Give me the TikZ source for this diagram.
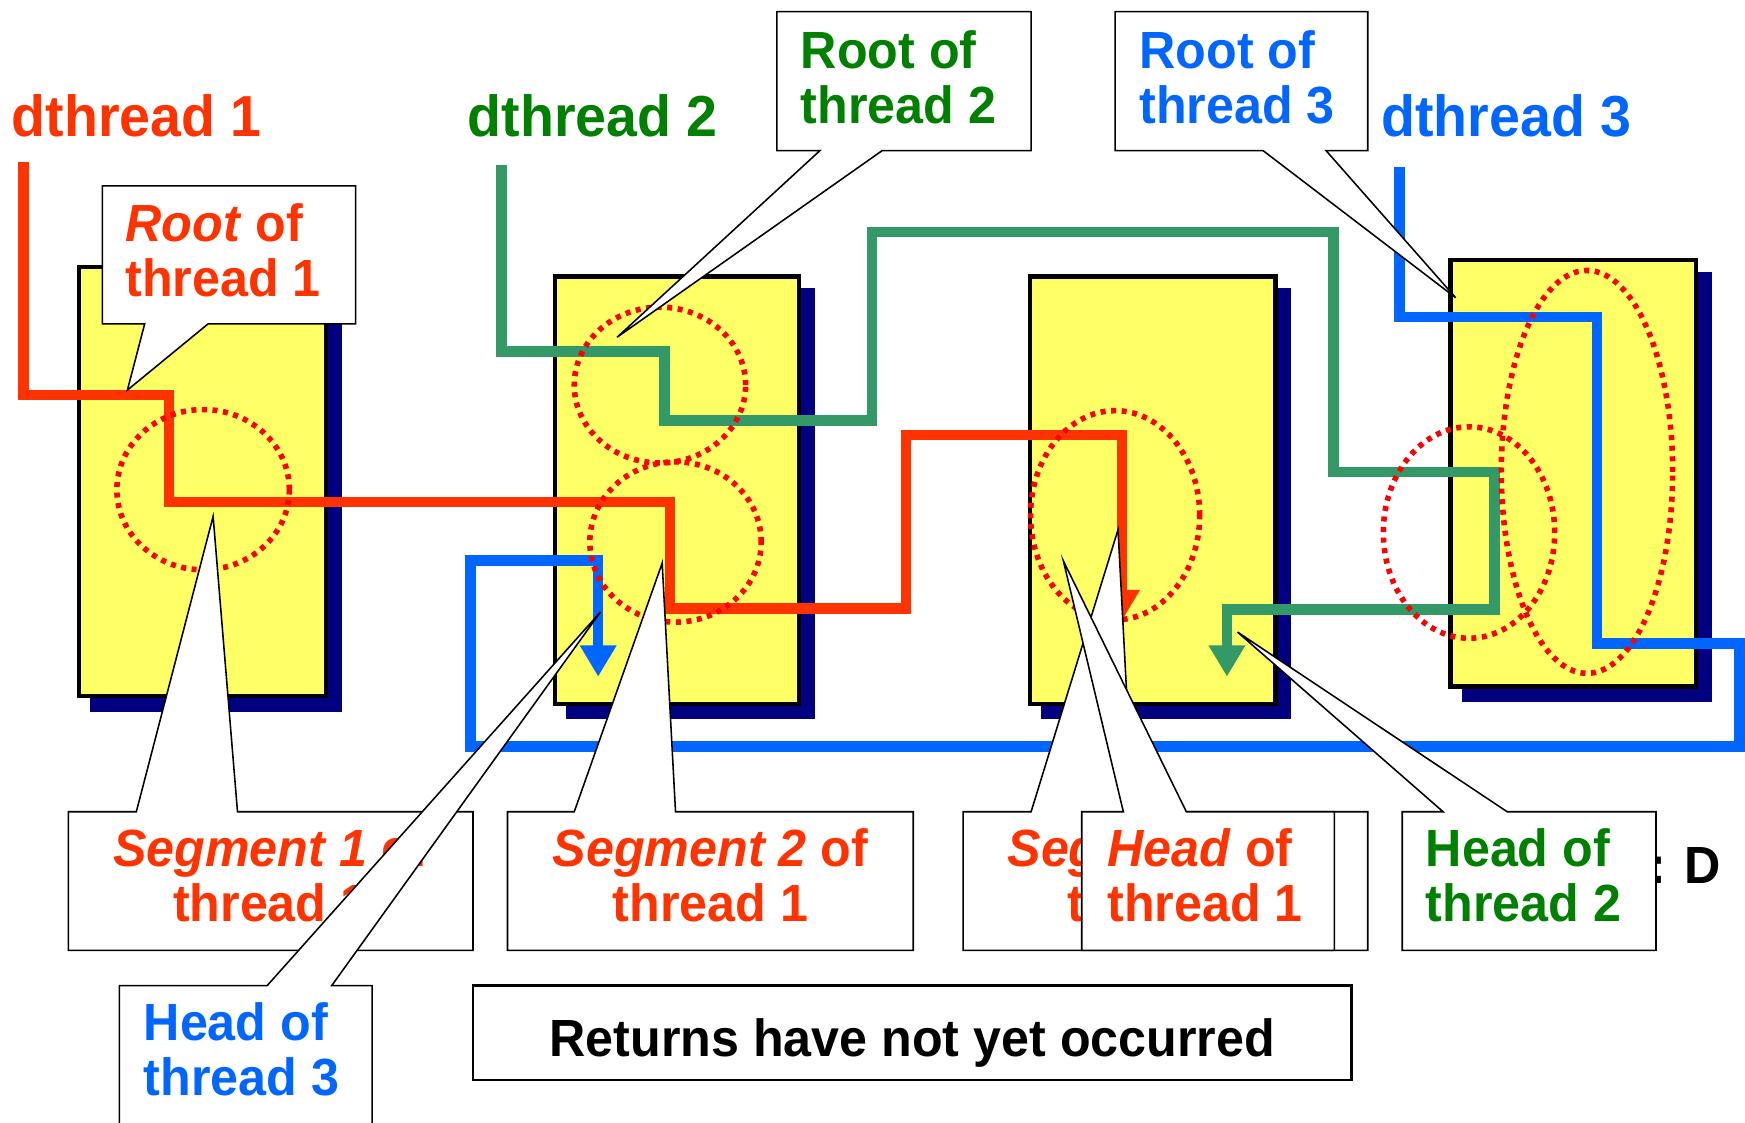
\documentclass[tikz,border=0pt]{standalone}
\usepackage{fontspec}
\setmainfont{Liberation Sans}[FakeStretch=0.96]
\usetikzlibrary{arrows.meta}
\definecolor{thrR}{HTML}{FF3300}
\definecolor{thrG}{HTML}{339966}
\definecolor{txtG}{HTML}{008000}
\definecolor{thrB}{HTML}{0066FF}
\definecolor{boxY}{HTML}{FFFF66}
\definecolor{shadowN}{HTML}{000080}
\definecolor{dotR}{HTML}{FF0000}
\newcommand\calfont{\fontsize{47}{50}\selectfont\bfseries}
\newcommand\titfont{\fontsize{52}{56}\selectfont\bfseries}
% callout with pointer on top edge: L,T,R,B,b1,b2,tipx,tipy
\newcommand\calloutT[8]{\filldraw[callout] (#1,#2) -- (#5,#2) -- (#7,#8) -- (#6,#2) -- (#3,#2) -- (#3,#4) -- (#1,#4) -- cycle;}
% callout with pointer on bottom edge
\newcommand\calloutB[8]{\filldraw[callout] (#1,#2) -- (#3,#2) -- (#3,#4) -- (#6,#4) -- (#7,#8) -- (#5,#4) -- (#1,#4) -- cycle;}
\tikzset{
  thread/.style={line width=9.5pt, line join=miter, line cap=butt},
  ring/.style={draw=dotR, line width=5pt, dash pattern=on 4.5pt off 5pt},
  ybox/.style={draw=black, fill=boxY, line width=4pt, anchor=north west, inner sep=0pt},
  shadowbox/.style={fill=shadowN},
  callout/.style={fill=white, draw=black, line width=1.4pt, line join=miter},
  lbl/.style={inner sep=0pt, anchor=base west},
  clbl/.style={inner sep=0pt, anchor=base},
  headtip/.style={-{Triangle[length=28pt,width=31pt]}}
}
\begin{document}
\begin{tikzpicture}[x=1pt,y=-1pt]
\clip (0,0) rectangle (1568,1009);
\fill[white] (0,0) rectangle (1568,1009);

% titles
\node[lbl, text=thrR] (t1) at (10.3,123) {\titfont dthread 1};
\node[lbl, text=txtG] (t2) at (420,123) {\titfont dthread 2};
\node[lbl, text=thrB] (t3) at (1241,123) {\titfont dthread 3};

% shadows
\fill[shadowbox] (81,251) rectangle (307,639.5);
\fill[shadowbox] (508.5,259) rectangle (732,646);
\fill[shadowbox] (935.5,259) rectangle (1160,646);
\fill[shadowbox] (1313.5,244) rectangle (1538,630.5);
% boxes
\node[ybox, minimum width=222pt, minimum height=385.5pt] (b1) at (69,238) {};
\node[ybox, minimum width=219.5pt, minimum height=384pt] (b2) at (496.5,246.5) {};
\node[ybox, minimum width=220.5pt, minimum height=384pt] (b3) at (923.5,246.5) {};
\node[ybox, minimum width=220.5pt, minimum height=383.5pt] (b4) at (1301.5,231.5) {};

% threads
\draw[thread, thrR, headtip] (21,146) -- (21,355) -- (152,355) -- (152,451) -- (602,451) -- (602,547) -- (814,547) -- (814,391) -- (1008,391) -- (1008,558);
\draw[thread, thrG, headtip] (450.5,148) -- (450.5,316) -- (597,316) -- (597,378) -- (783.5,378) -- (783.5,208.5) -- (1198,208.5) -- (1198,424) -- (1343,424) -- (1343,547.5) -- (1102.5,547.5) -- (1102.5,608);
\draw[thread, thrB, headtip] (1257.5,150) -- (1257.5,285) -- (1435,285) -- (1435,578) -- (1563,578) -- (1563,671) -- (423,671) -- (423,503.5) -- (537.5,503.5) -- (537.5,608);

% dotted rings
\draw[ring] (182.5,440) ellipse [x radius=77.5pt, y radius=72pt];
\draw[ring] (593,346) ellipse [x radius=77pt, y radius=70pt];
\draw[ring] (607,487) ellipse [x radius=77pt, y radius=72pt];
\draw[ring] (1002,463) ellipse [x radius=76pt, y radius=94pt];
\draw[ring] (1320,478.5) ellipse [x radius=77pt, y radius=95pt];
\draw[ring] (1426,424) ellipse [x radius=77pt, y radius=181pt];

% partly hidden text at right
\node[lbl, text=black] (dlab) at (1482,793.6) {\calfont : D};

% Root of thread 1
\calloutB{92}{167}{319.5}{291}{130}{187}{114.5}{350.5}
\node[lbl, text=thrR] (c1a) at (112.5,217) {\calfont\textit{Root} of};
\node[lbl, text=thrR] (c1b) at (112.5,266.6) {\calfont thread 1};
% Root of thread 2
\calloutB{698}{10.5}{926.5}{135.4}{736.7}{792.6}{554.5}{303}
\node[lbl, text=txtG] (c2a) at (719.5,61.4) {\calfont Root of};
\node[lbl, text=txtG] (c2b) at (719.5,110.8) {\calfont thread 2};
% Root of thread 3
\calloutB{1002}{10.5}{1229}{135.4}{1135}{1191.6}{1308}{267.5}
\node[lbl, text=thrB] (c3a) at (1023.6,61.4) {\calfont Root of};
\node[lbl, text=thrB] (c3b) at (1023.6,110.8) {\calfont thread 3};
% Segment 1 of thread 1
\calloutT{61.5}{729.4}{425}{854}{122.5}{213.4}{191.5}{464}
\node[clbl, text=thrR] (c4a) at (243.3,779) {\calfont\textit{Segment 1} of};
\node[clbl, text=thrR] (c4b) at (243.3,828) {\calfont thread 1};
% Segment 2 of thread 1
\calloutT{456}{729.4}{820.6}{854}{516}{607}{595}{506}
\node[clbl, text=thrR] (c5a) at (638.3,779) {\calfont\textit{Segment 2} of};
\node[clbl, text=thrR] (c5b) at (638.3,828) {\calfont thread 1};
% Head of thread 3
\calloutT{107.3}{885.7}{334.3}{1030}{240}{298}{539.5}{550}
\node[lbl, text=thrB] (c9a) at (129,934.6) {\calfont Head of};
\node[lbl, text=thrB] (c9b) at (129,984) {\calfont thread 3};
% Segment 3 of thread 1 (mostly hidden)
\calloutT{865.5}{729.4}{1229}{854}{926.5}{1018}{1004.6}{476}
\node[clbl, text=thrR] (c6a) at (1047,779) {\calfont\textit{Segment 3} of};
\node[clbl, text=thrR] (c6b) at (1047,828) {\calfont thread 1};
% Head of thread 1
\calloutT{972}{729.4}{1199}{854}{1009.4}{1066}{955.5}{504}
\node[lbl, text=thrR] (c7a) at (995,779) {\calfont\textit{Head} of};
\node[lbl, text=thrR] (c7b) at (995,828) {\calfont thread 1};
% Head of thread 2
\calloutT{1260}{729.4}{1488}{854}{1296.7}{1354.3}{1112}{568}
\node[lbl, text=txtG] (c8a) at (1281,779) {\calfont Head of};
\node[lbl, text=txtG] (c8b) at (1281,828) {\calfont thread 2};

% Returns box
\draw[fill=white, line width=2.5pt] (425,885.7) rectangle (1214.6,970.5);
\node[clbl, text=black] (ret) at (819.8,949) {\calfont Returns have not yet occurred};
\end{tikzpicture}
\end{document}
